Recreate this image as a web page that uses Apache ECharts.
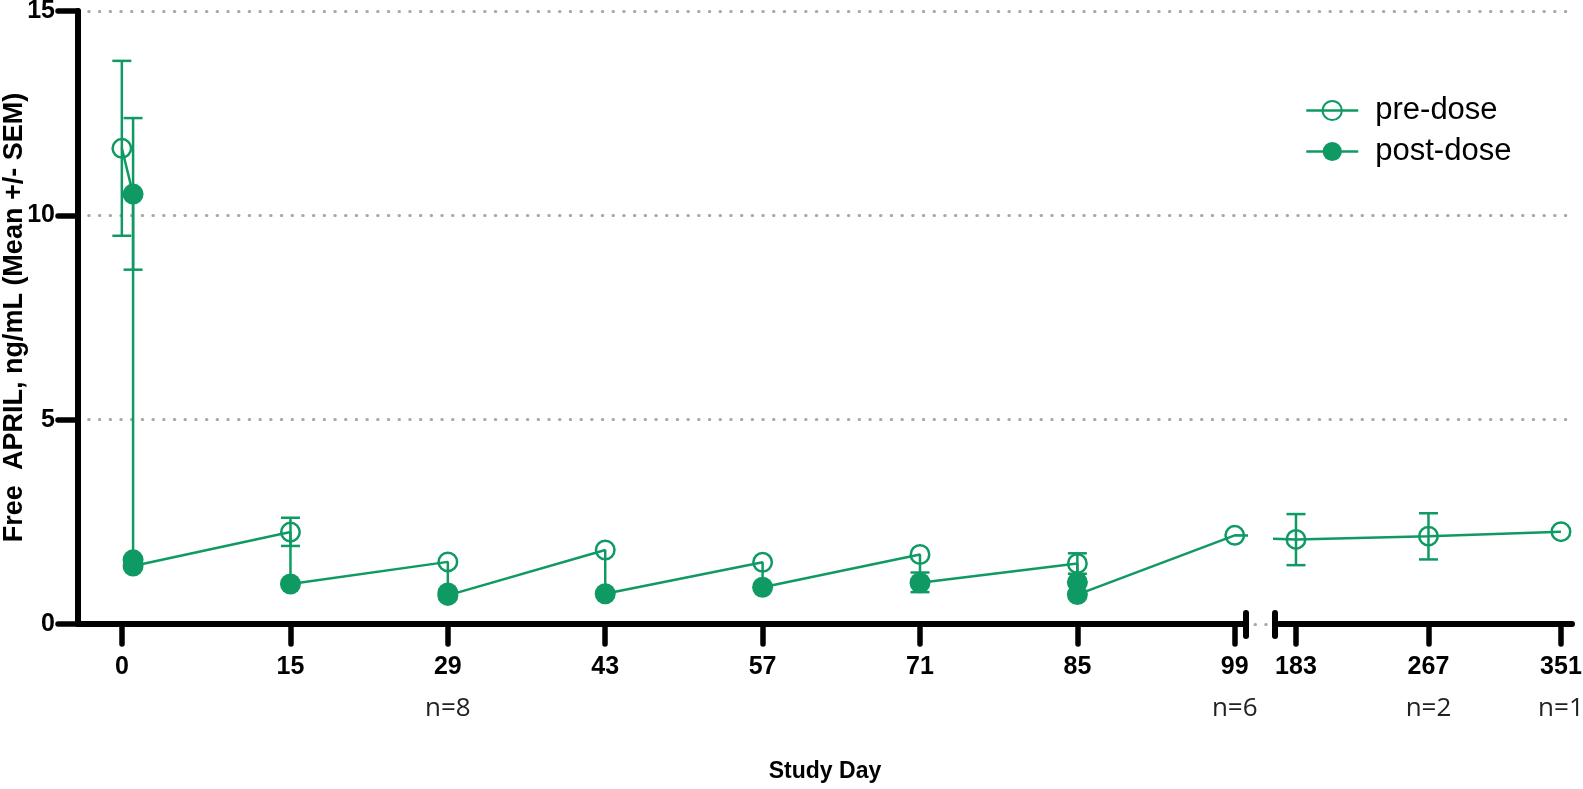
<!DOCTYPE html>
<html>
<head>
<meta charset="utf-8">
<title>Free APRIL</title>
<script src="https://cdn.jsdelivr.net/npm/echarts@6/dist/echarts.min.js"></script>
<style>
  html, body { margin: 0; padding: 0; background: #fff; }
  #main { width: 1583px; height: 789px; }
</style>
</head>
<body>
<div id="main"></div>
<script>
// time ordered readings up to day 99 (pre-dose then post-dose samples)
var seqDay = [0, 1, 1, 1, 15, 15, 29, 29, 29, 43, 43, 57, 57, 71, 71, 85, 85, 85, 99]
var seqValue = [11.64, 10.52, 1.57, 1.42, 2.25, 0.98, 1.52, 0.76, 0.70, 1.81, 0.74, 1.51, 0.90, 1.70, 1.01, 1.48, 1.02, 0.72, 2.17]
var seqDose = ['pre', 'post', 'post', 'post', 'pre', 'post', 'pre', 'post', 'post', 'pre', 'post', 'pre', 'post', 'pre', 'post', 'pre', 'post', 'post', 'pre']
// follow-up, pre-dose only
var lateDay = [183, 267, 351]
var lateValue = [2.07, 2.15, 2.26]
// SEM bars that are visible outside the markers
var errDay = [0, 1, 15, 71, 85, 183, 267]
var errLow = [9.50, 8.67, 1.91, 0.78, 1.23, 1.44, 1.58]
var errHigh = [13.78, 12.38, 2.60, 1.26, 1.73, 2.69, 2.71]
// tick labels
var leftTicks = [0, 15, 29, 43, 57, 71, 85, 99]
var rightTicks = [183, 267, 351]
var nDays = [29, 99, 267, 351]
var nText = ['n=8', 'n=6', 'n=2', 'n=1']
var yTicks = [0, 5, 10, 15]

var green = '#0f9a63'
var leftMin = -3.9, leftMax = 100
var rightMin = 169.7, rightMax = 358

var chart = echarts.init(document.getElementById('main'))

var early = seqDay.map(function(d, i) { return [d, seqValue[i]] })
var late = lateDay.map(function(d, i) { return [d, lateValue[i]] })
var preEarly = early.filter(function(p, i) { return seqDose[i] === 'pre' })
var postEarly = early.filter(function(p, i) { return seqDose[i] === 'post' })
var errs = errDay.map(function(d, i) { return [d, errLow[i], errHigh[i]] })

function renderErr(params, api) {
  var x = api.value(0)
  var lo = api.coord([x, api.value(1)])
  var hi = api.coord([x, api.value(2)])
  var w = 9.5
  var st = { stroke: green, lineWidth: 2.5 }
  return {
    type: 'group',
    children: [
      { type: 'line', shape: { x1: lo[0], y1: lo[1], x2: hi[0], y2: hi[1] }, style: st },
      { type: 'line', shape: { x1: hi[0] - w, y1: hi[1], x2: hi[0] + w, y2: hi[1] }, style: st },
      { type: 'line', shape: { x1: lo[0] - w, y1: lo[1], x2: lo[0] + w, y2: lo[1] }, style: st }
    ]
  }
}

function xLabel(v) {
  var i = nDays.indexOf(v)
  if (i < 0) return '{d|' + v + '}'
  return '{d|' + v + '}\n{n|' + nText[i] + '}'
}

var axisBlack = { color: '#000', width: 6, cap: 'round' }
var xLabelStyle = {
  margin: 22,
  formatter: xLabel,
  rich: {
    d: { fontFamily: 'Liberation Sans', fontWeight: 'bold', fontSize: 25, color: '#000', lineHeight: 42 },
    n: { fontFamily: 'Open Sans', fontSize: 26, color: '#222', lineHeight: 42 }
  }
}

function xAxisFor(grid, min, max, ticks) {
  return {
    gridIndex: grid,
    type: 'value',
    min: min,
    max: max,
    z: 3,
    axisLine: { show: true, onZero: false, lineStyle: axisBlack },
    axisTick: { show: true, customValues: ticks, length: 20, lineStyle: { color: '#000', width: 5.5, cap: 'round' } },
    axisLabel: Object.assign({ customValues: ticks }, xLabelStyle),
    splitLine: { show: false }
  }
}

var hiddenLine = { opacity: 0 }

var option = {
  animation: false,
  backgroundColor: '#fff',
  grid: [
    { left: 78, top: 11, width: 1168, height: 613, outerBoundsMode: 'none', containLabel: false },
    { left: 1275, top: 11, width: 297, height: 613, outerBoundsMode: 'none', containLabel: false },
    { left: 78, top: 11, width: 1494, height: 613, outerBoundsMode: 'none', containLabel: false }
  ],
  xAxis: [
    xAxisFor(0, leftMin, leftMax, leftTicks),
    xAxisFor(1, rightMin, rightMax, rightTicks),
    {
      gridIndex: 2, type: 'value', min: 0, max: 1, z: 0,
      axisLine: { show: false }, axisTick: { show: false }, axisLabel: { show: false }, splitLine: { show: false },
      name: 'Study Day', nameLocation: 'middle', nameGap: 136, nameMoveOverlap: false,
      nameTextStyle: { fontFamily: 'Liberation Sans', fontWeight: 'bold', fontSize: 23, color: '#000' }
    }
  ],
  yAxis: [
    {
      gridIndex: 0, type: 'value', min: 0, max: 15, interval: 5, z: 3,
      axisLine: { show: true, onZero: false, lineStyle: axisBlack },
      axisTick: { show: true, length: 20, lineStyle: { color: '#000', width: 5.5, cap: 'round' } },
      axisLabel: { margin: 23, fontFamily: 'Liberation Sans', fontWeight: 'bold', fontSize: 25, color: '#000',
        formatter: function(v) { return yTicks.indexOf(v) > -1 ? String(v) : '' } },
      splitLine: { show: false },
      name: 'Free  APRIL, ng/mL (Mean +/- SEM)',
      nameLocation: 'middle', nameRotate: 90, nameGap: 50, nameMoveOverlap: false,
      nameTextStyle: { fontFamily: 'Liberation Sans', fontWeight: 'bold', fontSize: 27, color: '#000' }
    },
    { gridIndex: 1, type: 'value', min: 0, max: 15, interval: 5, show: false },
    {
      gridIndex: 2, type: 'value', min: 0, max: 15, interval: 5, z: 0,
      axisLine: { show: false }, axisTick: { show: false }, axisLabel: { show: false },
      splitLine: { show: true, lineStyle: { color: '#a8a8a8', width: 3, type: [0.5, 10.2], cap: 'round' } }
    }
  ],
  legend: {
    orient: 'vertical',
    left: 1305,
    top: 95,
    padding: 0,
    itemWidth: 52,
    itemHeight: 24,
    itemGap: 10,
    selectedMode: false,
    data: ['pre-dose', 'post-dose'],
    itemStyle: { opacity: 1 },
    lineStyle: { opacity: 1, width: 2.5, color: green },
    textStyle: { fontFamily: 'Liberation Sans', fontSize: 31, lineHeight: 24, color: '#000', padding: [0, 0, 0, 12] }
  },
  series: [
    {
      type: 'custom', name: 'sem-early', xAxisIndex: 0, yAxisIndex: 0, z: 2,
      renderItem: renderErr, encode: { x: 0, y: [1, 2] },
      data: errs.filter(function(e) { return e[0] <= leftMax })
    },
    {
      type: 'custom', name: 'sem-late', xAxisIndex: 1, yAxisIndex: 1, z: 2,
      renderItem: renderErr, encode: { x: 0, y: [1, 2] },
      data: errs.filter(function(e) { return e[0] >= rightMin })
    },
    {
      // connecting line, runs into the break on each side
      type: 'line', name: 'link-early', xAxisIndex: 0, yAxisIndex: 0, z: 2,
      showSymbol: false, clip: true,
      lineStyle: { color: green, width: 2.5 },
      data: early.concat([late[0]])
    },
    {
      type: 'line', name: 'link-late', xAxisIndex: 1, yAxisIndex: 1, z: 2,
      showSymbol: false, clip: true,
      lineStyle: { color: green, width: 2.5 },
      data: [early[early.length - 1]].concat(late)
    },
    {
      type: 'line', name: 'pre-dose', xAxisIndex: 0, yAxisIndex: 0, z: 3,
      symbol: 'circle', symbolSize: 18.5,
      itemStyle: { color: 'rgba(255,255,255,0)', borderColor: green, borderWidth: 2.5 },
      lineStyle: hiddenLine,
      data: preEarly
    },
    {
      type: 'line', name: 'pre-dose', xAxisIndex: 1, yAxisIndex: 1, z: 3,
      symbol: 'circle', symbolSize: 18.5,
      itemStyle: { color: 'rgba(255,255,255,0)', borderColor: green, borderWidth: 2.5 },
      lineStyle: hiddenLine,
      data: late
    },
    {
      type: 'line', name: 'post-dose', xAxisIndex: 0, yAxisIndex: 0, z: 3,
      symbol: 'circle', symbolSize: 21,
      itemStyle: { color: green, borderWidth: 0 },
      lineStyle: hiddenLine,
      data: postEarly
    }
  ]
}

chart.setOption(option)

// short marks where the x axis is broken
var a = chart.convertToPixel({ xAxisIndex: 0, yAxisIndex: 0 }, [leftMax, 0])
var b = chart.convertToPixel({ xAxisIndex: 1, yAxisIndex: 1 }, [rightMin, 0])
var markStyle = { stroke: '#000', lineWidth: 6, lineCap: 'round' }
chart.setOption({
  graphic: [
    { type: 'line', z: 10, shape: { x1: a[0], y1: a[1] - 11, x2: a[0], y2: a[1] + 12 }, style: markStyle },
    { type: 'line', z: 10, shape: { x1: b[0], y1: b[1] - 11, x2: b[0], y2: b[1] + 12 }, style: markStyle }
  ]
})

window.addEventListener('resize', function() {
  chart.resize()
})
</script>
</body>
</html>
